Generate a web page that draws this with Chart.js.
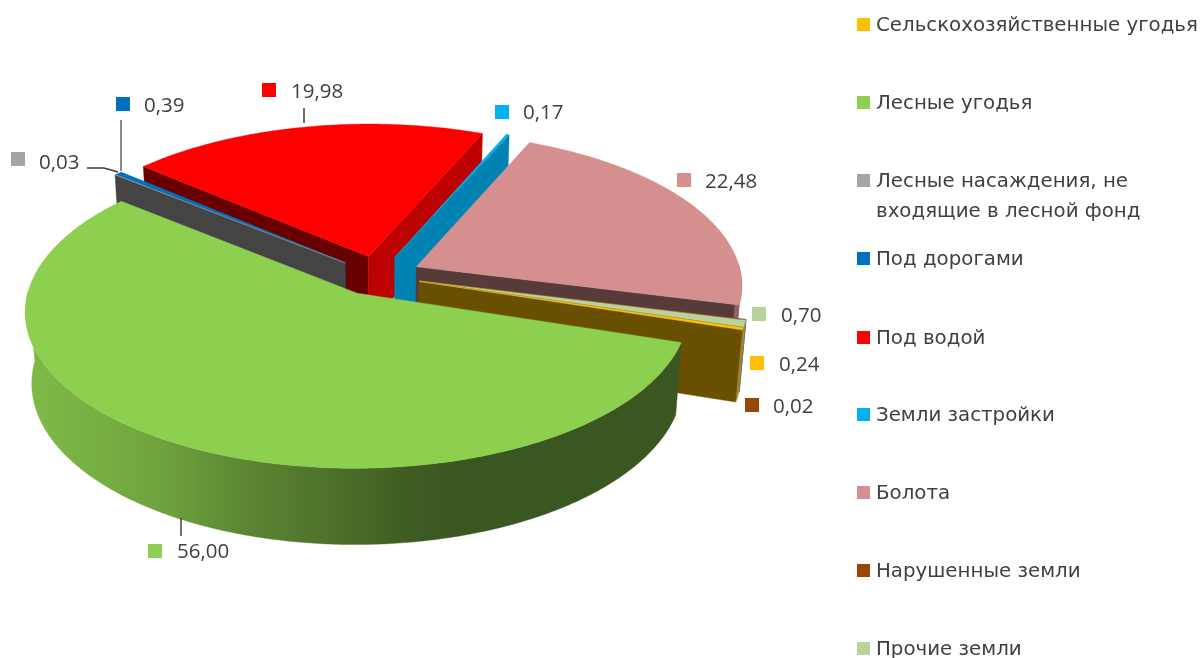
<!DOCTYPE html>
<html lang="ru">
<head>
<meta charset="utf-8">
<title>Земельные угодья</title>
<style>
html,body{margin:0;padding:0;background:#fff;overflow:hidden}
canvas{display:block;filter:blur(.55px)}
</style>
<script src="https://cdn.jsdelivr.net/npm/chart.js@4"></script>
</head>
<body>
<canvas id="c" width="1202" height="658"></canvas>
<script>
const categories = ["Сельскохозяйственные угодья","Лесные угодья",["Лесные насаждения, не","входящие в лесной фонд"],"Под дорогами","Под водой","Земли застройки","Болота","Нарушенные земли","Прочие земли"];
const values = [0.24,56.00,0.03,0.39,19.98,0.17,22.48,0.02,0.70];
const colors = ["#FFC000","#8DCF4E","#A5A5A5","#0070C0","#FF0000","#00B0F0","#D58F8F","#974706","#B9D29A"];

// layout of the annotations: [swatch x, swatch y, text x, text y]
const valueLabelPos = [[757,363,779,365],[155,551,177,552],[18,159,39,163],[123,104,144,106],[269,90,291,92],[502,112,523,113],[684,180,705,182],[752,405,773,407],[759,314,781,316]];
const legendY = [26,104,182,260,339,416,494,572,650];
const leaders = [
  {c:"#8c8c8c",w:2,p:[[121,120],[121,171]]},
  {c:"#404040",w:1.5,p:[[87,168],[104,168],[118,172]]},
  {c:"#404040",w:1.5,p:[[304,108],[304,123]]},
  {c:"#404040",w:1.5,p:[[181,518],[181,536]]}
];

const KX=1.258, KY=0.585, KH=0.277, P=0.112, Q=0.018;
const TEXT="#404040";

function shade(hex,f){
  const n=parseInt(hex.slice(1),16);
  return "rgb("+[(n>>16)&255,(n>>8)&255,n&255].map(v=>Math.round(v*f)).join(",")+")";
}
function projector(arc){
  const R=arc.outerRadius, e=arc.options.offset/R, mid=(arc.startAngle+arc.endAngle)/2;
  const ox=e*Math.cos(mid), oy=e*Math.sin(mid);
  return (a,r,z)=>{
    const X=ox+r*Math.cos(a), Y=oy+r*Math.sin(a), s=1/(1-P*Y+Q*z);
    return [arc.x+R*KX*X*s, arc.y+R*(KY*Y+KH*z)*s];
  };
}
function poly(ctx,pts,fill){
  ctx.beginPath();
  pts.forEach((p,i)=>i?ctx.lineTo(p[0],p[1]):ctx.moveTo(p[0],p[1]));
  ctx.closePath();
  ctx.fillStyle=fill; ctx.fill();
  ctx.strokeStyle=fill; ctx.lineWidth=.4; ctx.stroke();
}
function outerGradient(ctx,color){
  const g=ctx.createLinearGradient(25,0,760,0);
  [[0,.9],[.11,.84],[.2,.77],[.31,.64],[.41,.55],[.52,.45],[.59,.42],[.9,.42],[.97,.7],[1,.7]].forEach(s=>g.addColorStop(s[0],shade(color,s[1])));
  return g;
}
function drawSlice(ctx,arc,color){
  const pr=projector(arc), a0=arc.startAngle, a1=arc.endAngle;
  const radial=(a,normal)=>{
    if(Math.sin(normal)<=0) return;
    poly(ctx,[pr(a,0,0),pr(a,1,0),pr(a,1,1),pr(a,0,1)],shade(color,Math.cos(normal)>.5?.74:.41));
  };
  radial(a0,a0-Math.PI/2);
  radial(a1,a1+Math.PI/2);
  const n=Math.max(2,Math.ceil((a1-a0)/0.01));
  const top=[pr(0,0,0)], front=[];
  for(let i=0;i<=n;i++){
    const a=a0+(a1-a0)*i/n;
    top.push(pr(a,1,0));
    if(Math.sin(a)>=-0.02) front.push(a);
  }
  if(front.length>1){
    const up=front.map(a=>pr(a,1,0)), dn=front.map(a=>pr(a,1,1)).reverse();
    poly(ctx,up.concat(dn),outerGradient(ctx,color));
  }
  poly(ctx,top,color);
}

const pie3d={
  id:"pie3d",
  beforeDatasetsDraw(chart){
    const ctx=chart.ctx, arcs=chart.getDatasetMeta(0).data;
    const order=arcs.map((a,i)=>i).sort((i,j)=>
      Math.sin((arcs[i].startAngle+arcs[i].endAngle)/2)-Math.sin((arcs[j].startAngle+arcs[j].endAngle)/2));
    ctx.save();
    order.forEach(i=>drawSlice(ctx,arcs[i],colors[i]));
    ctx.restore();
    return false;
  },
  afterDraw(chart){
    const ctx=chart.ctx;
    ctx.save();
    leaders.forEach(l=>{
      ctx.beginPath();
      l.p.forEach((p,i)=>i?ctx.lineTo(p[0],p[1]):ctx.moveTo(p[0],p[1]));
      ctx.strokeStyle=l.c; ctx.lineWidth=l.w; ctx.stroke();
    });
    ctx.textBaseline="middle"; ctx.textAlign="left";
    // value labels
    ctx.font='20.5px "Open Sans"';
    values.forEach((v,i)=>{
      const p=valueLabelPos[i];
      ctx.fillStyle=colors[i];
      ctx.fillRect(p[0]-7,p[1]-7,14,14);
      ctx.fillStyle=TEXT;
      ctx.fillText(v.toFixed(2).replace(".",","),p[2],p[3]);
    });
    // legend
    ctx.font='19.8px "DejaVu Sans"';
    categories.forEach((c,i)=>{
      const y=legendY[i];
      ctx.fillStyle=colors[i];
      ctx.fillRect(857,y-8,13,13);
      ctx.fillStyle=TEXT;
      [].concat(c).forEach((t,k)=>ctx.fillText(t,876,y+k*30));
    });
    ctx.restore();
  }
};

new Chart(document.getElementById("c"),{
  type:"pie",
  data:{labels:categories.map(c=>[].concat(c).join(" ")),datasets:[{data:values,backgroundColor:colors,offset:34,borderWidth:0}]},
  options:{
    responsive:false,animation:false,rotation:107,
    layout:{padding:{left:0,right:446,top:0,bottom:107}},
    plugins:{legend:{display:false},tooltip:{enabled:false}}
  },
  plugins:[pie3d]
});
</script>
</body>
</html>
